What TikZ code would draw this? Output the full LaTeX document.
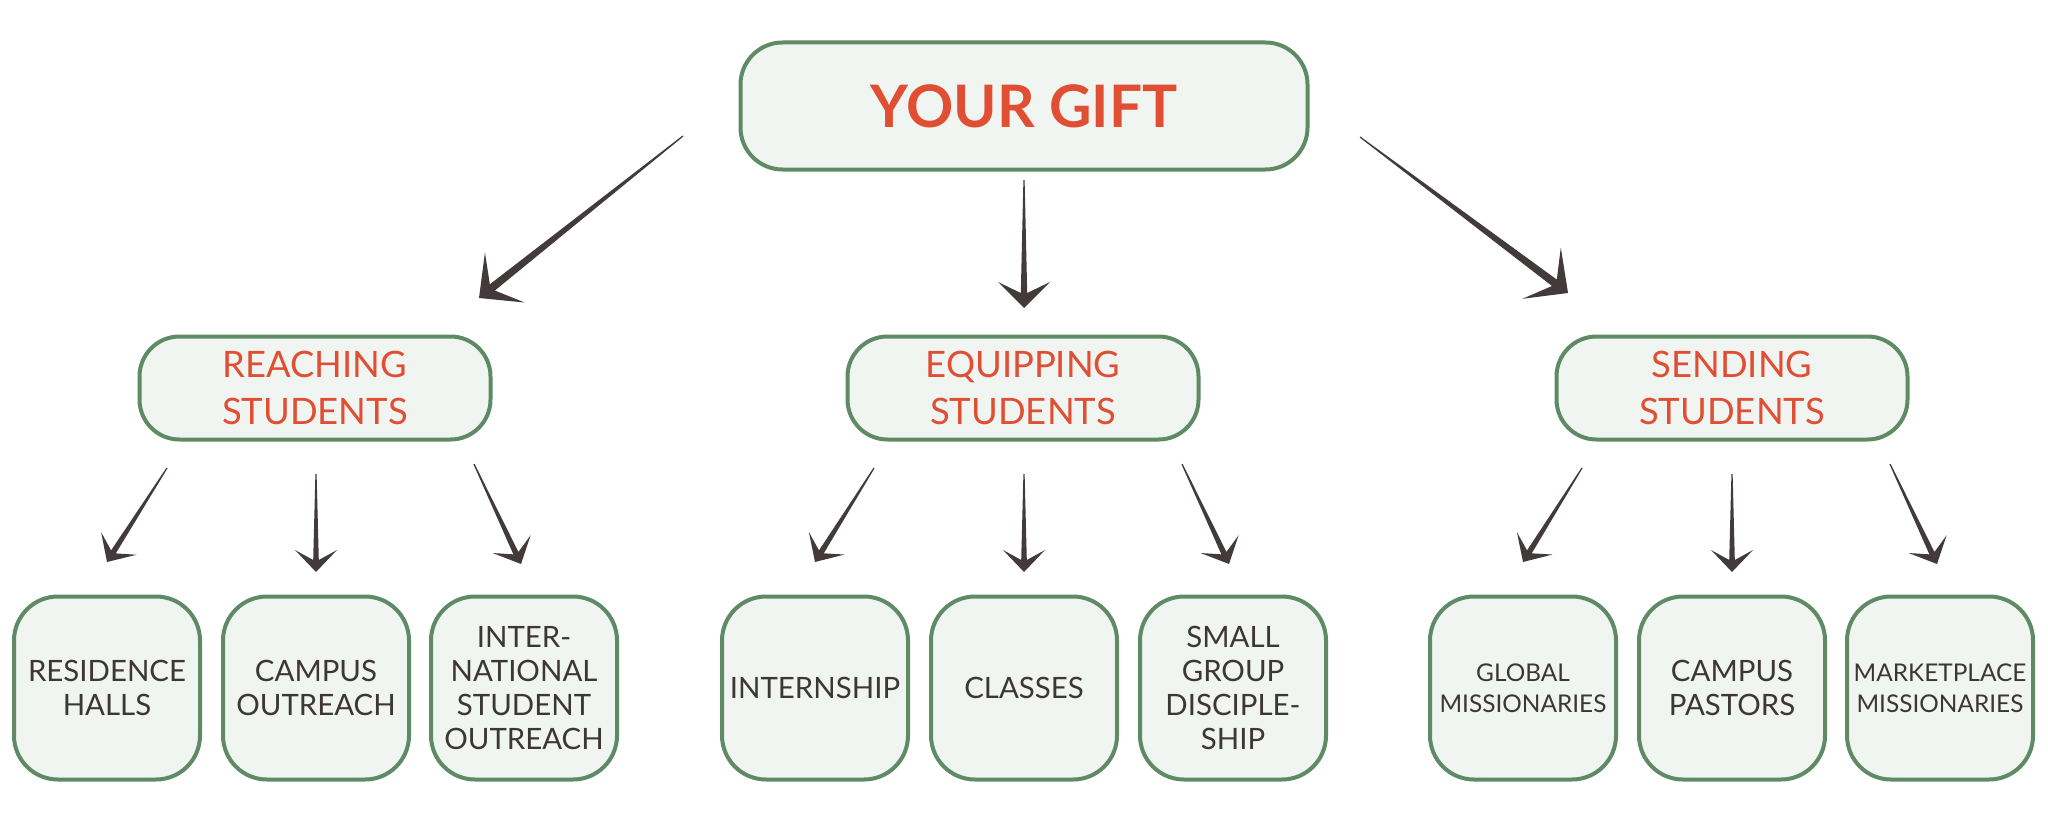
\documentclass[tikz,border=0pt]{standalone}
\usepackage{fontspec}
\setmainfont{Lato}
\usetikzlibrary{calc}
\definecolor{boxline}{HTML}{5E8A64}
\definecolor{boxfill}{HTML}{F1F5F2}
\definecolor{redtext}{HTML}{E04E33}
\definecolor{darktext}{HTML}{3D3636}
\definecolor{arrowcol}{HTML}{433B3B}
\newcommand\taparrow[6]{%
  \path (#1) coordinate (tS) (#2) coordinate (tT);
  \path ($(tT)!#3!(tS)$) coordinate (tH) ($(tT)!#4!(tS)$) coordinate (tN);
  \fill[arrowcol] ($(tS)!0.3pt!90:(tT)$) -- ($(tN)!#6!90:(tT)$) -- ($(tH)!#5!90:(tT)$)
    -- (tT) -- ($(tH)!#5!-90:(tT)$) -- ($(tN)!#6!-90:(tT)$) -- ($(tS)!0.3pt!-90:(tT)$) -- cycle;
}
\begin{document}
\begin{tikzpicture}[x=0.5pt,y=-0.5pt,
  box/.style={draw=boxline,fill=boxfill,line width=2pt,align=center,inner sep=0pt},
  topbox/.style={box,minimum width=283.5pt,minimum height=63.5pt,rounded corners=21pt,text=redtext,font=\bfseries\fontsize{29.3}{32}\selectfont},
  midbox/.style={box,minimum width=175.5pt,minimum height=51.5pt,rounded corners=20pt,text=redtext,font=\fontsize{18.2}{23.5}\selectfont},
  leafbox/.style={box,minimum width=93pt,minimum height=91.5pt,rounded corners=22pt,text=darktext,font=\fontsize{14.7}{17}\selectfont},
  smalltext/.style={font=\fontsize{12.2}{15.5}\selectfont}]
\fill[white] (0,0) rectangle (2048,824);
\useasboundingbox (0,0) rectangle (2048,824);

\node[topbox] (gift) at (1024,106) {YOUR GIFT};

\node[midbox] (reach) at (315,388) {REACHING\\STUDENTS};
\node[midbox] (equip) at (1023,388) {EQUIPPING\\STUDENTS};
\node[midbox] (send) at (1732,388) {SENDING\\STUDENTS};

\node[leafbox] (r1) at (107,688) {RESIDENCE\\HALLS};
\node[leafbox] (r2) at (316,688) {CAMPUS\\OUTREACH};
\node[leafbox] (r3) at (524,688) {INTER-\\NATIONAL\\STUDENT\\OUTREACH};
\node[leafbox] (e1) at (815,688) {INTERNSHIP};
\node[leafbox] (e2) at (1024,688) {CLASSES};
\node[leafbox] (e3) at (1233,688) {SMALL\\GROUP\\DISCIPLE-\\SHIP};
\node[leafbox,smalltext] (s1) at (1523,688) {GLOBAL\\MISSIONARIES};
\node[leafbox] (s2) at (1732,688) {CAMPUS\\PASTORS};
\node[leafbox,smalltext] (s3) at (1940,688) {MARKETPLACE\\MISSIONARIES};

% top arrows
\coordinate (a1s) at (683,136); \coordinate (a1t) at (479,298);
\coordinate (a2s) at (1024,180); \coordinate (a2t) at (1024,308);
\coordinate (a3s) at (1360,137); \coordinate (a3t) at (1568,293);
\taparrow{a1s}{a1t}{16.5pt}{8.5pt}{16pt}{2pt}
\taparrow{a2s}{a2t}{13pt}{7.5pt}{13pt}{1.6pt}
\taparrow{a3s}{a3t}{16.5pt}{8.5pt}{16pt}{2pt}

% second level arrows
\coordinate (b1s) at (167,468); \coordinate (b1t) at (107,562);
\coordinate (b2s) at (316,474); \coordinate (b2t) at (316,572);
\coordinate (b3s) at (474,464); \coordinate (b3t) at (521,564);
\coordinate (c1s) at (874,468); \coordinate (c1t) at (815,562);
\coordinate (c2s) at (1024,474); \coordinate (c2t) at (1024,572);
\coordinate (c3s) at (1182,464); \coordinate (c3t) at (1229,564);
\coordinate (d1s) at (1582,468); \coordinate (d1t) at (1523,562);
\coordinate (d2s) at (1732,474); \coordinate (d2t) at (1732,572);
\coordinate (d3s) at (1890,464); \coordinate (d3t) at (1937,564);
\foreach \p in {b1,b2,b3,c1,c2,c3,d1,d2,d3}{
  \taparrow{\p s}{\p t}{11pt}{6pt}{10.5pt}{1.4pt}
}
\end{tikzpicture}
\end{document}
